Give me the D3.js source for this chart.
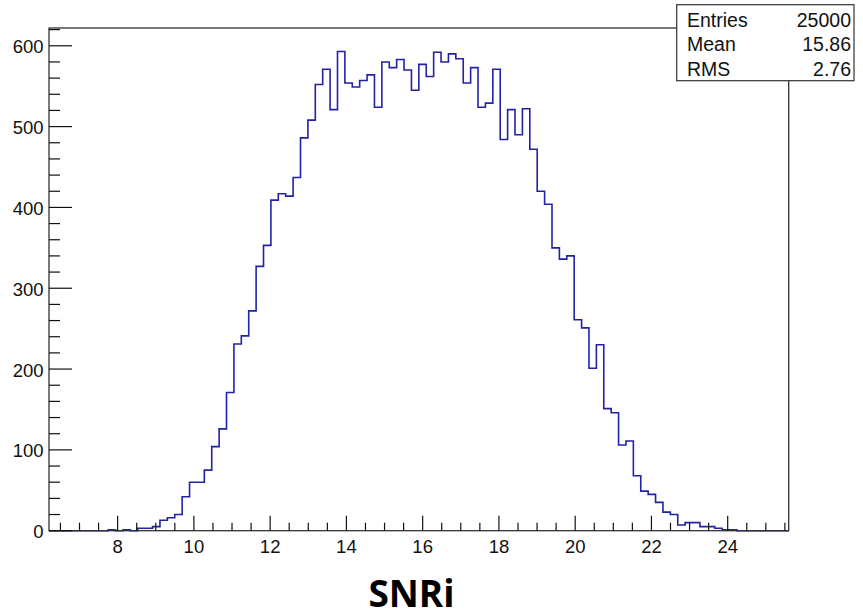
<html>
<head>
  <meta charset="utf-8">
  <style>
    body { margin: 0; background: #fff; }
    svg { display: block; }
    .lbl { font-family: "Liberation Sans", Arial, sans-serif; font-size: 18.5px; fill: #111; }
    .stat { font-family: "Liberation Sans", Arial, sans-serif; font-size: 19.5px; fill: #111; }
  </style>
</head>
<body>
  <svg></svg>
  <script src="https://d3js.org/d3.v7.min.js"></script>
  <script>
    let width = 863, height = 613;

    // histogram definition (100 bins)
    let xMin = 6.2, xMax = 25.6;
    let counts = [
      0, 0, 0, 0, 0, 0, 0, 0, 1, 0,
      1, 0, 3, 3, 5, 13, 16, 20, 42, 60,
      60, 75, 104, 126, 171, 231, 241, 272, 327, 353,
      409, 417, 414, 437, 486, 508, 552, 571, 521, 593,
      554, 549, 557, 564, 524, 580, 573, 583, 570, 545,
      577, 562, 592, 580, 590, 584, 554, 573, 524, 529,
      571, 484, 521, 490, 522, 472, 420, 404, 350, 336,
      340, 261, 251, 201, 230, 151, 146, 106, 111, 68,
      49, 45, 35, 23, 20, 7, 10, 10, 5, 5,
      3, 1, 1, 0, 0, 0, 0, 0, 0, 0
    ];
    let xMajor = [8, 10, 12, 14, 16, 18, 20, 22, 24];
    let yMajor = [0, 100, 200, 300, 400, 500, 600];
    let statNames = ["Entries", "Mean", "RMS"];
    let statValues = ["25000", "15.86", "2.76"];
    let axisTitle = "SNRi";

    let svg = d3.select("svg")
        .attr("width", width)
        .attr("height", height);

    let x = d3.scaleLinear().domain([xMin, xMax]).range([49, 788.7]);
    let y = d3.scaleLinear().domain([0, 622]).range([530.7, 28]);
    let binW = (xMax - xMin) / counts.length;

    // step outline of the histogram
    let pts = [[x(xMin), y(0)]];
    counts.forEach((c, i) => {
      pts.push([x(xMin + i * binW), y(c)]);
      pts.push([x(xMin + (i + 1) * binW), y(c)]);
    });
    pts.push([x(xMax), y(0)]);

    svg.append("path")
        .attr("d", d3.line()(pts))
        .attr("fill", "none")
        .attr("stroke", "#2222a6")
        .attr("stroke-width", 1.6);

    // frame
    svg.append("rect")
        .attr("x", x(xMin)).attr("y", y(622))
        .attr("width", x(xMax) - x(xMin))
        .attr("height", y(0) - y(622))
        .attr("fill", "none")
        .attr("stroke", "#333")
        .attr("stroke-width", 1.3);

    // y ticks (inside)
    let yMinor = d3.range(0, 621, 20);
    svg.append("g").selectAll("line")
        .data(yMinor)
        .enter().append("line")
        .attr("x1", x(xMin)).attr("x2", d => x(xMin) + (d % 100 === 0 ? 23 : 11))
        .attr("y1", d => y(d)).attr("y2", d => y(d))
        .attr("stroke", "#111").attr("stroke-width", 1.2);

    svg.append("g").selectAll("text")
        .data(yMajor)
        .enter().append("text")
        .attr("class", "lbl")
        .attr("x", 43.5)
        .attr("y", d => y(d) + 7.5)
        .attr("text-anchor", "end")
        .text(d => d);

    // x ticks (inside)
    let xMinor = d3.range(6.5, 25.51, 0.5);
    svg.append("g").selectAll("line")
        .data(xMinor)
        .enter().append("line")
        .attr("x1", d => x(d)).attr("x2", d => x(d))
        .attr("y1", y(0)).attr("y2", d => y(0) - (d % 2 === 0 ? 15 : 8))
        .attr("stroke", "#111").attr("stroke-width", 1.2);

    svg.append("g").selectAll("text")
        .data(xMajor)
        .enter().append("text")
        .attr("class", "lbl")
        .attr("x", d => x(d))
        .attr("y", 552.5)
        .attr("text-anchor", "middle")
        .text(d => d);

    // stats box
    let box = svg.append("g");
    box.append("rect")
        .attr("x", 676.7).attr("y", 4.7)
        .attr("width", 177.3).attr("height", 76)
        .attr("fill", "#fff")
        .attr("stroke", "#333")
        .attr("stroke-width", 1.2);

    statNames.forEach((n, i) => {
      box.append("text").attr("class", "stat")
          .attr("x", 687).attr("y", 26.5 + i * 24.8)
          .text(n);
      box.append("text").attr("class", "stat")
          .attr("x", 851).attr("y", 26.5 + i * 24.8)
          .attr("text-anchor", "end")
          .text(statValues[i]);
    });

    // axis title
    svg.append("text")
        .attr("x", 411.5)
        .attr("y", 606.5)
        .attr("text-anchor", "middle")
        .style("font-family", "'Open Sans', sans-serif")
        .style("font-weight", "bold")
        .style("font-size", "37px")
        .style("fill", "#000")
        .text(axisTitle);
  </script>
</body>
</html>
